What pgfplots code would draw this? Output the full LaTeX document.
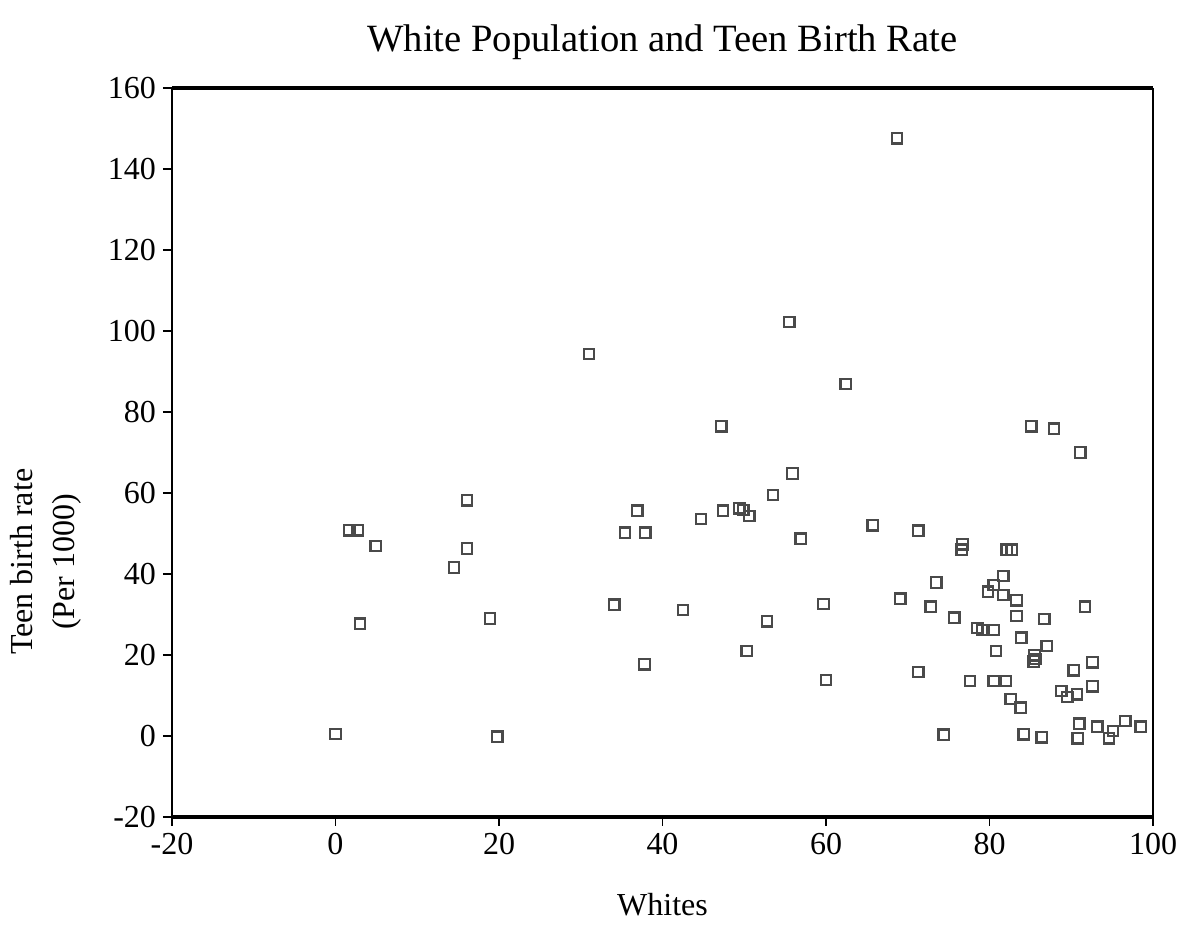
\documentclass[border=0pt]{standalone}
\usepackage{pgfplots}
\pgfplotsset{compat=1.18}
\usepackage{fontspec}
\setmainfont{Liberation Serif}
\definecolor{markgray}{HTML}{4A4A4A}
\begin{document}
\begin{tikzpicture}
\path[use as bounding box] (0,0) rectangle (595.5pt,467.5pt);
\begin{axis}[
  at={(86pt,59pt)}, anchor=south west,
  width=490.5pt, height=364.5pt, scale only axis,
  xmin=-20, xmax=100, ymin=-20, ymax=160,
  xtick={-20,0,20,40,60,80,100},
  ytick={-20,0,20,40,60,80,100,120,140,160},
  tick align=outside, xtick pos=bottom, ytick pos=left,
  major tick length=4.5pt,
  tick style={black, line width=0.9pt},
  separate axis lines,
  x axis line style={line width=1.6pt},
  y axis line style={line width=1.1pt},
  /pgf/number format/assume math mode=true,
  ticklabel style={font=\fontsize{16}{19}\selectfont},
  title={White Population and Teen Birth Rate},
  title style={font=\fontsize{19.3}{22}\selectfont, at={(axis description cs:0.5,1.0466)}, anchor=center},
  xlabel={Whites},
  xlabel style={font=\fontsize{16}{19}\selectfont, at={(axis description cs:0.5,-0.1207)}, anchor=center},
  ylabel={Teen birth rate\\(Per 1000)},
  ylabel style={font=\fontsize{16}{21}\selectfont, align=center, at={(axis description cs:-0.1284,0.35)}, anchor=center},
]
\addplot[only marks, mark=square, mark size=2.6pt, mark options={draw=markgray, line width=1.15pt, fill=none}] table {
x y
0.0 0.5
1.7 50.8
2.7 50.8
3.0 27.7
4.9 46.9
14.5 41.6
16.1 58.2
16.1 46.3
18.9 29.0
19.8 -0.2
31.0 94.3
34.1 32.4
35.4 50.2
36.9 55.6
37.8 17.7
37.9 50.2
42.5 31.1
44.7 53.6
47.2 76.5
47.4 55.6
49.4 56.2
49.9 55.8
50.3 21.0
50.6 54.3
52.8 28.3
53.5 59.5
55.5 102.2
55.9 64.8
56.9 48.7
59.7 32.6
60.0 13.8
62.4 86.9
65.7 52.0
68.7 147.6
69.1 33.9
71.3 50.7
71.3 15.8
72.8 31.9
73.5 37.9
74.4 0.3
75.7 29.2
76.7 47.3
76.6 46.0
77.6 13.6
78.5 26.7
79.1 26.2
79.8 35.6
80.5 37.3
80.5 26.2
80.5 13.6
80.8 21.0
81.7 39.5
81.7 34.8
82.0 13.6
82.1 46.0
82.7 46.0
82.6 9.1
83.3 33.5
83.3 29.6
83.8 7.0
83.9 24.3
84.2 0.4
86.4 -0.3
85.5 19.9
85.6 19.0
85.4 18.4
86.7 28.9
87.0 22.2
85.1 76.5
87.9 75.9
91.1 70.0
88.8 11.1
89.5 9.6
90.7 10.3
90.3 16.2
91.7 31.9
92.6 18.2
92.6 12.3
91.0 3.0
90.8 -0.6
93.2 2.3
95.1 1.2
94.6 -0.6
96.6 3.7
98.5 2.3
};
\end{axis}
\end{tikzpicture}
\end{document}
